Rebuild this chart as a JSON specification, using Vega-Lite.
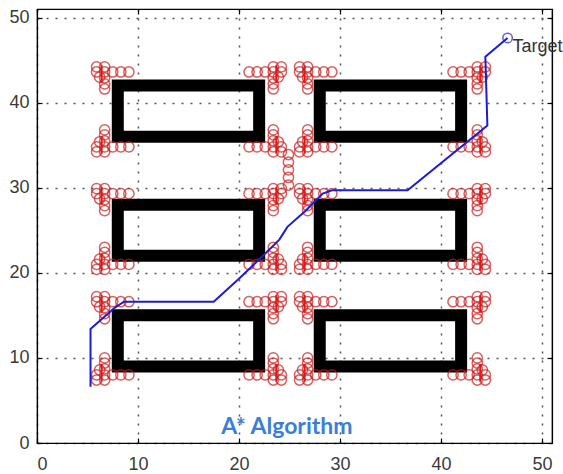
{
  "$schema": "https://vega.github.io/schema/vega-lite/v6.json",
  "width": 515,
  "height": 434,
  "autosize": {"type": "none"},
  "padding": {"left": 37, "top": 9, "right": 11, "bottom": 31},
  "background": "white",
  "config": {
    "view": {"stroke": "black", "strokeWidth": 1.2},
    "axis": {
      "domainColor": "black",
      "domainWidth": 1.2,
      "tickColor": "black",
      "tickWidth": 1.2,
      "tickSize": -5,
      "labelFont": "Liberation Sans",
      "labelFontSize": 18,
      "labelColor": "#3a3a3a",
      "title": null,
      "gridDash": [2, 7],
      "gridColor": "#555555",
      "gridWidth": 1.5,
      "gridOpacity": 1
    }
  },
  "datasets": {
    "rects": [
      {"x": 8, "x2": 22, "y": 36, "y2": 42},
      {"x": 8, "x2": 22, "y": 22, "y2": 28},
      {"x": 8, "x2": 22, "y": 9, "y2": 15},
      {"x": 28, "x2": 42, "y": 36, "y2": 42},
      {"x": 28, "x2": 42, "y": 22, "y2": 28},
      {"x": 28, "x2": 42, "y": 9, "y2": 15}
    ],
    "circles": [
      {"x":5.9,"y":43.6},{"x":6.7,"y":43.6},{"x":7.5,"y":43.6},{"x":8.3,"y":43.6},{"x":9.1,"y":43.6},{"x":6.7,"y":44.2},{"x":6.7,"y":42.9},{"x":6.7,"y":42.2},{"x":6.7,"y":41.6},{"x":5.9,"y":44.2},{"x":6.2,"y":43.0},
      {"x":24.2,"y":43.6},{"x":23.4,"y":43.6},{"x":22.6,"y":43.6},{"x":21.8,"y":43.6},{"x":21.0,"y":43.6},{"x":23.4,"y":44.2},{"x":23.4,"y":42.9},{"x":23.4,"y":42.2},{"x":23.4,"y":41.6},{"x":24.2,"y":44.2},{"x":23.9,"y":43.0},
      {"x":5.9,"y":34.8},{"x":6.7,"y":34.8},{"x":7.5,"y":34.8},{"x":8.3,"y":34.8},{"x":9.1,"y":34.8},{"x":6.7,"y":34.2},{"x":6.7,"y":35.5},{"x":6.7,"y":36.2},{"x":6.7,"y":36.8},{"x":5.9,"y":34.2},{"x":6.2,"y":35.4},
      {"x":24.2,"y":34.8},{"x":23.4,"y":34.8},{"x":22.6,"y":34.8},{"x":21.8,"y":34.8},{"x":21.0,"y":34.8},{"x":23.4,"y":34.2},{"x":23.4,"y":35.5},{"x":23.4,"y":36.2},{"x":23.4,"y":36.8},{"x":24.2,"y":34.2},{"x":23.9,"y":35.4},
      {"x":5.9,"y":29.3},{"x":6.7,"y":29.3},{"x":7.5,"y":29.3},{"x":8.3,"y":29.3},{"x":9.1,"y":29.3},{"x":6.7,"y":29.9},{"x":6.7,"y":28.6},{"x":6.7,"y":27.9},{"x":6.7,"y":27.3},{"x":5.9,"y":29.9},{"x":6.2,"y":28.7},
      {"x":24.2,"y":29.3},{"x":23.4,"y":29.3},{"x":22.6,"y":29.3},{"x":21.8,"y":29.3},{"x":21.0,"y":29.3},{"x":23.4,"y":29.9},{"x":23.4,"y":28.6},{"x":23.4,"y":27.9},{"x":23.4,"y":27.3},{"x":24.2,"y":29.9},{"x":23.9,"y":28.7},
      {"x":5.9,"y":21.0},{"x":6.7,"y":21.0},{"x":7.5,"y":21.0},{"x":8.3,"y":21.0},{"x":9.1,"y":21.0},{"x":6.7,"y":20.4},{"x":6.7,"y":21.7},{"x":6.7,"y":22.4},{"x":6.7,"y":23.0},{"x":5.9,"y":20.4},{"x":6.2,"y":21.6},
      {"x":24.2,"y":21.0},{"x":23.4,"y":21.0},{"x":22.6,"y":21.0},{"x":21.8,"y":21.0},{"x":21.0,"y":21.0},{"x":23.4,"y":20.4},{"x":23.4,"y":21.7},{"x":23.4,"y":22.4},{"x":23.4,"y":23.0},{"x":24.2,"y":20.4},{"x":23.9,"y":21.6},
      {"x":5.9,"y":16.6},{"x":6.7,"y":16.6},{"x":7.5,"y":16.6},{"x":8.3,"y":16.6},{"x":9.1,"y":16.6},{"x":6.7,"y":17.2},{"x":6.7,"y":15.9},{"x":6.7,"y":15.2},{"x":6.7,"y":14.6},{"x":5.9,"y":17.2},{"x":6.2,"y":16.0},
      {"x":24.2,"y":16.6},{"x":23.4,"y":16.6},{"x":22.6,"y":16.6},{"x":21.8,"y":16.6},{"x":21.0,"y":16.6},{"x":23.4,"y":17.2},{"x":23.4,"y":15.9},{"x":23.4,"y":15.2},{"x":23.4,"y":14.6},{"x":24.2,"y":17.2},{"x":23.9,"y":16.0},
      {"x":5.9,"y":8.0},{"x":6.7,"y":8.0},{"x":7.5,"y":8.0},{"x":8.3,"y":8.0},{"x":9.1,"y":8.0},{"x":6.7,"y":7.4},{"x":6.7,"y":8.7},{"x":6.7,"y":9.4},{"x":6.7,"y":10.0},{"x":5.9,"y":7.4},{"x":6.2,"y":8.6},
      {"x":24.2,"y":8.0},{"x":23.4,"y":8.0},{"x":22.6,"y":8.0},{"x":21.8,"y":8.0},{"x":21.0,"y":8.0},{"x":23.4,"y":7.4},{"x":23.4,"y":8.7},{"x":23.4,"y":9.4},{"x":23.4,"y":10.0},{"x":24.2,"y":7.4},{"x":23.9,"y":8.6},
      {"x":26.0,"y":43.6},{"x":26.8,"y":43.6},{"x":27.6,"y":43.6},{"x":28.4,"y":43.6},{"x":29.2,"y":43.6},{"x":26.8,"y":44.2},{"x":26.8,"y":42.9},{"x":26.8,"y":42.2},{"x":26.8,"y":41.6},{"x":26.0,"y":44.2},{"x":26.3,"y":43.0},
      {"x":44.4,"y":43.6},{"x":43.6,"y":43.6},{"x":42.8,"y":43.6},{"x":42.0,"y":43.6},{"x":41.2,"y":43.6},{"x":43.6,"y":44.2},{"x":43.6,"y":42.9},{"x":43.6,"y":42.2},{"x":43.6,"y":41.6},{"x":44.4,"y":44.2},{"x":44.1,"y":43.0},
      {"x":26.0,"y":34.8},{"x":26.8,"y":34.8},{"x":27.6,"y":34.8},{"x":28.4,"y":34.8},{"x":29.2,"y":34.8},{"x":26.8,"y":34.2},{"x":26.8,"y":35.5},{"x":26.8,"y":36.2},{"x":26.8,"y":36.8},{"x":26.0,"y":34.2},{"x":26.3,"y":35.4},
      {"x":44.4,"y":34.8},{"x":43.6,"y":34.8},{"x":42.8,"y":34.8},{"x":42.0,"y":34.8},{"x":41.2,"y":34.8},{"x":43.6,"y":34.2},{"x":43.6,"y":35.5},{"x":43.6,"y":36.2},{"x":43.6,"y":36.8},{"x":44.4,"y":34.2},{"x":44.1,"y":35.4},
      {"x":26.0,"y":29.3},{"x":26.8,"y":29.3},{"x":27.6,"y":29.3},{"x":28.4,"y":29.3},{"x":29.2,"y":29.3},{"x":26.8,"y":29.9},{"x":26.8,"y":28.6},{"x":26.8,"y":27.9},{"x":26.8,"y":27.3},{"x":26.0,"y":29.9},{"x":26.3,"y":28.7},
      {"x":44.4,"y":29.3},{"x":43.6,"y":29.3},{"x":42.8,"y":29.3},{"x":42.0,"y":29.3},{"x":41.2,"y":29.3},{"x":43.6,"y":29.9},{"x":43.6,"y":28.6},{"x":43.6,"y":27.9},{"x":43.6,"y":27.3},{"x":44.4,"y":29.9},{"x":44.1,"y":28.7},
      {"x":26.0,"y":21.0},{"x":26.8,"y":21.0},{"x":27.6,"y":21.0},{"x":28.4,"y":21.0},{"x":29.2,"y":21.0},{"x":26.8,"y":20.4},{"x":26.8,"y":21.7},{"x":26.8,"y":22.4},{"x":26.8,"y":23.0},{"x":26.0,"y":20.4},{"x":26.3,"y":21.6},
      {"x":44.4,"y":21.0},{"x":43.6,"y":21.0},{"x":42.8,"y":21.0},{"x":42.0,"y":21.0},{"x":41.2,"y":21.0},{"x":43.6,"y":20.4},{"x":43.6,"y":21.7},{"x":43.6,"y":22.4},{"x":43.6,"y":23.0},{"x":44.4,"y":20.4},{"x":44.1,"y":21.6},
      {"x":26.0,"y":16.6},{"x":26.8,"y":16.6},{"x":27.6,"y":16.6},{"x":28.4,"y":16.6},{"x":29.2,"y":16.6},{"x":26.8,"y":17.2},{"x":26.8,"y":15.9},{"x":26.8,"y":15.2},{"x":26.8,"y":14.6},{"x":26.0,"y":17.2},{"x":26.3,"y":16.0},
      {"x":44.4,"y":16.6},{"x":43.6,"y":16.6},{"x":42.8,"y":16.6},{"x":42.0,"y":16.6},{"x":41.2,"y":16.6},{"x":43.6,"y":17.2},{"x":43.6,"y":15.9},{"x":43.6,"y":15.2},{"x":43.6,"y":14.6},{"x":44.4,"y":17.2},{"x":44.1,"y":16.0},
      {"x":26.0,"y":8.0},{"x":26.8,"y":8.0},{"x":27.6,"y":8.0},{"x":28.4,"y":8.0},{"x":29.2,"y":8.0},{"x":26.8,"y":7.4},{"x":26.8,"y":8.7},{"x":26.8,"y":9.4},{"x":26.8,"y":10.0},{"x":26.0,"y":7.4},{"x":26.3,"y":8.6},
      {"x":44.4,"y":8.0},{"x":43.6,"y":8.0},{"x":42.8,"y":8.0},{"x":42.0,"y":8.0},{"x":41.2,"y":8.0},{"x":43.6,"y":7.4},{"x":43.6,"y":8.7},{"x":43.6,"y":9.4},{"x":43.6,"y":10.0},{"x":44.4,"y":7.4},{"x":44.1,"y":8.6},
      {"x":24.9,"y":33.9},{"x":24.9,"y":33.0},{"x":24.9,"y":32.1},{"x":24.9,"y":31.2},{"x":24.9,"y":30.3}
    ],
    "segs": [
      {"x":6.4,"y":44.4,"y2":42.3},{"x":23.7,"y":44.4,"y2":42.3},{"x":26.5,"y":44.4,"y2":42.3},{"x":43.9,"y":44.4,"y2":42.3},
      {"x":6.4,"y":34.0,"y2":36.1},{"x":23.7,"y":34.0,"y2":36.1},{"x":26.5,"y":34.0,"y2":36.1},{"x":43.9,"y":34.0,"y2":36.1},
      {"x":6.4,"y":30.1,"y2":28.0},{"x":23.7,"y":30.1,"y2":28.0},{"x":26.5,"y":30.1,"y2":28.0},{"x":43.9,"y":30.1,"y2":28.0},
      {"x":6.4,"y":20.2,"y2":22.3},{"x":23.7,"y":20.2,"y2":22.3},{"x":26.5,"y":20.2,"y2":22.3},{"x":43.9,"y":20.2,"y2":22.3},
      {"x":6.4,"y":17.4,"y2":15.3},{"x":23.7,"y":17.4,"y2":15.3},{"x":26.5,"y":17.4,"y2":15.3},{"x":43.9,"y":17.4,"y2":15.3},
      {"x":6.4,"y":7.2,"y2":9.3},{"x":23.7,"y":7.2,"y2":9.3},{"x":26.5,"y":7.2,"y2":9.3},{"x":43.9,"y":7.2,"y2":9.3}
    ],
    "path": [
      {"i":0,"x":5.3,"y":6.6},{"i":1,"x":5.3,"y":13.4},{"i":2,"x":7.6,"y":15.8},{"i":3,"x":8.6,"y":16.6},
      {"i":4,"x":17.5,"y":16.6},{"i":5,"x":20.0,"y":19.3},{"i":6,"x":22.2,"y":21.8},{"i":7,"x":24.0,"y":23.9},
      {"i":8,"x":24.8,"y":25.4},{"i":9,"x":26.6,"y":27.3},{"i":10,"x":28.3,"y":29.3},{"i":11,"x":29.2,"y":29.7},
      {"i":12,"x":36.7,"y":29.7},{"i":13,"x":44.6,"y":37.3},{"i":14,"x":44.4,"y":45.4},{"i":15,"x":46.6,"y":47.6}
    ],
    "target": [{"x":46.6,"y":47.6,"label":"Target"}],
    "title": [{"x":24.75,"y":1.9,"label":"A* Algorithm"}]
  },
  "layer": [
    {
      "data": {"name": "rects"},
      "mark": {"type": "rect", "fill": "transparent", "stroke": "black", "strokeWidth": 12, "strokeJoin": "miter"},
      "encoding": {
        "x": {"field": "x", "type": "quantitative", "scale": {"domain": [0, 51], "nice": false, "zero": false},
              "axis": {"orient": "bottom", "grid": true, "labelPadding": 17, "values": [0, 10, 20, 30, 40, 50]}},
        "x2": {"field": "x2"},
        "y": {"field": "y", "type": "quantitative", "scale": {"domain": [0, 51], "nice": false, "zero": false},
              "axis": {"orient": "left", "grid": true, "labelPadding": 13, "values": [0, 10, 20, 30, 40, 50]}},
        "y2": {"field": "y2"}
      }
    },
    {
      "data": {"name": "circles"},
      "mark": {"type": "point", "shape": "circle", "filled": false, "size": 105, "stroke": "#c81e1e", "strokeWidth": 1.5},
      "encoding": {
        "x": {"field": "x", "type": "quantitative", "axis": {"orient": "top", "labels": false, "grid": false, "values": [0, 10, 20, 30, 40, 50]}},
        "y": {"field": "y", "type": "quantitative", "axis": {"orient": "right", "labels": false, "grid": false, "values": [0, 10, 20, 30, 40, 50]}}
      }
    },
    {
      "data": {"name": "segs"},
      "mark": {"type": "rule", "stroke": "#e01818", "strokeWidth": 2},
      "encoding": {
        "x": {"field": "x", "type": "quantitative", "axis": null},
        "y": {"field": "y", "type": "quantitative", "axis": null},
        "y2": {"field": "y2"}
      }
    },
    {
      "data": {"name": "path"},
      "mark": {"type": "line", "stroke": "#1c1cd0", "strokeWidth": 2},
      "encoding": {
        "x": {"field": "x", "type": "quantitative", "axis": null},
        "y": {"field": "y", "type": "quantitative", "axis": null},
        "order": {"field": "i", "type": "quantitative"}
      }
    },
    {
      "data": {"name": "target"},
      "mark": {"type": "point", "shape": "circle", "filled": false, "size": 90, "stroke": "#1c1cd0", "strokeWidth": 1.5},
      "encoding": {
        "x": {"field": "x", "type": "quantitative", "axis": null},
        "y": {"field": "y", "type": "quantitative", "axis": null}
      }
    },
    {
      "data": {"name": "target"},
      "mark": {"type": "text", "align": "left", "baseline": "middle", "dx": 5, "dy": 9, "font": "Liberation Sans", "fontSize": 18, "fill": "#333333"},
      "encoding": {
        "x": {"field": "x", "type": "quantitative", "axis": null},
        "y": {"field": "y", "type": "quantitative", "axis": null},
        "text": {"field": "label"}
      }
    },
    {
      "data": {"name": "title"},
      "mark": {"type": "text", "align": "center", "baseline": "middle", "font": "Lato", "fontWeight": "bold", "fontSize": 23, "fill": "#3b7ddd"},
      "encoding": {
        "x": {"field": "x", "type": "quantitative", "axis": null},
        "y": {"field": "y", "type": "quantitative", "axis": null},
        "text": {"field": "label"}
      }
    }
  ],
  "resolve": {"axis": {"x": "independent", "y": "independent"}}
}
